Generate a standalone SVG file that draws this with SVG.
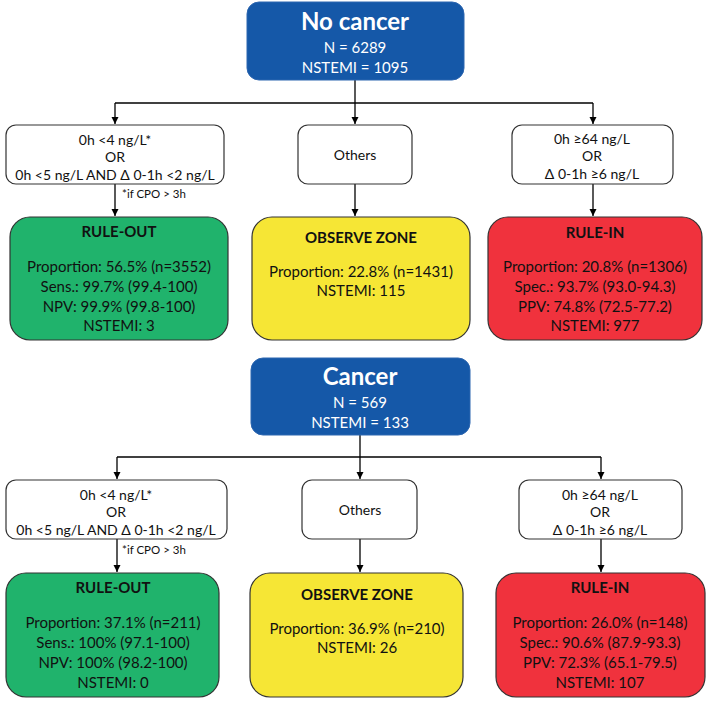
<svg xmlns="http://www.w3.org/2000/svg" width="711" height="702" viewBox="0 0 711 702">
<defs>
<marker id="ar" markerUnits="userSpaceOnUse" markerWidth="8" markerHeight="8" refX="7" refY="3.5" orient="auto">
<path d="M0,0 L7,3.5 L0,7 z" fill="#000"/>
</marker>
</defs>
<style>
text{font-family:Lato,"Liberation Sans",sans-serif;text-anchor:middle;fill:#111}
.hdr rect{fill:#1558a8;stroke:#2d66b0;stroke-width:1}
.hdr text{fill:#fff}
.big{font-size:24px;font-weight:bold}
.sub{font-size:15px}
.crit rect{fill:#fff;stroke:#333;stroke-width:1.2}
.crit text{font-size:14px}
.res rect{stroke:#333;stroke-width:1.2}
.res text{font-size:15px}
.res .ttl{font-weight:bold;font-size:15px}
.g rect{fill:#20b36c}
.y rect{fill:#f6e635}
.r rect{fill:#f0323d}
.note{font-size:11.5px;text-anchor:start}
.conn path{fill:none;stroke:#000;stroke-width:1.3}
</style>
<rect width="711" height="702" fill="#fff"/>

<g id="connectors" class="conn">
<path d="M355,80 V103"/>
<path d="M115,103 H593"/>
<path d="M115,103 V124" marker-end="url(#ar)"/>
<path d="M355,103 V124" marker-end="url(#ar)"/>
<path d="M593,103 V124" marker-end="url(#ar)"/>
<path d="M115,184 V216" marker-end="url(#ar)"/>
<path d="M355,184 V216" marker-end="url(#ar)"/>
<path d="M593,184 V216" marker-end="url(#ar)"/>
<path d="M360,435 V457"/>
<path d="M117,457 H601"/>
<path d="M117,457 V479" marker-end="url(#ar)"/>
<path d="M360,457 V479" marker-end="url(#ar)"/>
<path d="M601,457 V479" marker-end="url(#ar)"/>
<path d="M117,539 V572" marker-end="url(#ar)"/>
<path d="M360,539 V572" marker-end="url(#ar)"/>
<path d="M601,539 V572" marker-end="url(#ar)"/>
<text class="note" x="122" y="198">*if CPO &gt; 3h</text>
<text class="note" x="122" y="554">*if CPO &gt; 3h</text>
</g>

<g id="no-cancer" class="hdr">
<rect x="247" y="2" width="217" height="78" rx="12"/>
<text class="big" x="355" y="30">No cancer</text>
<text class="sub" x="355" y="53">N = 6289</text>
<text class="sub" x="355" y="73">NSTEMI = 1095</text>
</g>

<g id="crit-out-1" class="crit">
<rect x="6" y="125" width="218" height="59" rx="10"/>
<text x="115" y="145">0h &lt;4 ng/L*</text>
<text x="115" y="162">OR</text>
<text x="115" y="180">0h &lt;5 ng/L AND Δ 0-1h &lt;2 ng/L</text>
</g>
<g id="crit-others-1" class="crit">
<rect x="298" y="125" width="114" height="59" rx="10"/>
<text x="355" y="160">Others</text>
</g>
<g id="crit-in-1" class="crit">
<rect x="512" y="125" width="161" height="59" rx="10"/>
<text x="592" y="144">0h ≥64 ng/L</text>
<text x="592" y="161">OR</text>
<text x="592" y="179">Δ 0-1h ≥6 ng/L</text>
</g>

<g id="rule-out-1" class="res g">
<rect x="10" y="217" width="218" height="123" rx="20"/>
<text class="ttl" x="119" y="237">RULE-OUT</text>
<text x="119" y="272">Proportion: 56.5% (n=3552)</text>
<text x="119" y="292">Sens.: 99.7% (99.4-100)</text>
<text x="119" y="312">NPV: 99.9% (99.8-100)</text>
<text x="119" y="331">NSTEMI: 3</text>
</g>
<g id="observe-1" class="res y">
<rect x="252" y="217" width="218" height="123" rx="20"/>
<text class="ttl" x="361" y="243">OBSERVE ZONE</text>
<text x="361" y="277">Proportion: 22.8% (n=1431)</text>
<text x="361" y="296">NSTEMI: 115</text>
</g>
<g id="rule-in-1" class="res r">
<rect x="488" y="217" width="214" height="123" rx="20"/>
<text class="ttl" x="595" y="238">RULE-IN</text>
<text x="595" y="272">Proportion: 20.8% (n=1306)</text>
<text x="595" y="292">Spec.: 93.7% (93.0-94.3)</text>
<text x="595" y="312">PPV: 74.8% (72.5-77.2)</text>
<text x="595" y="331">NSTEMI: 977</text>
</g>

<g id="cancer" class="hdr">
<rect x="251" y="358" width="219" height="77" rx="12"/>
<text class="big" x="360" y="385">Cancer</text>
<text class="sub" x="360" y="408">N = 569</text>
<text class="sub" x="360" y="428">NSTEMI = 133</text>
</g>

<g id="crit-out-2" class="crit">
<rect x="6" y="480" width="221" height="59" rx="10"/>
<text x="116" y="500">0h &lt;4 ng/L*</text>
<text x="116" y="517">OR</text>
<text x="116" y="535">0h &lt;5 ng/L AND Δ 0-1h &lt;2 ng/L</text>
</g>
<g id="crit-others-2" class="crit">
<rect x="302" y="480" width="115" height="59" rx="10"/>
<text x="360" y="515">Others</text>
</g>
<g id="crit-in-2" class="crit">
<rect x="519" y="480" width="163" height="59" rx="10"/>
<text x="600" y="500">0h ≥64 ng/L</text>
<text x="600" y="517">OR</text>
<text x="600" y="535">Δ 0-1h ≥6 ng/L</text>
</g>

<g id="rule-out-2" class="res g">
<rect x="6" y="573" width="213" height="124" rx="20"/>
<text class="ttl" x="113" y="593">RULE-OUT</text>
<text x="113" y="628">Proportion: 37.1% (n=211)</text>
<text x="113" y="648">Sens.: 100% (97.1-100)</text>
<text x="113" y="668">NPV: 100% (98.2-100)</text>
<text x="113" y="688">NSTEMI: 0</text>
</g>
<g id="observe-2" class="res y">
<rect x="250" y="573" width="213" height="124" rx="20"/>
<text class="ttl" x="357" y="600">OBSERVE ZONE</text>
<text x="357" y="634">Proportion: 36.9% (n=210)</text>
<text x="357" y="653">NSTEMI: 26</text>
</g>
<g id="rule-in-2" class="res r">
<rect x="496" y="573" width="209" height="124" rx="20"/>
<text class="ttl" x="600" y="593">RULE-IN</text>
<text x="600" y="628">Proportion: 26.0% (n=148)</text>
<text x="600" y="648">Spec.: 90.6% (87.9-93.3)</text>
<text x="600" y="668">PPV: 72.3% (65.1-79.5)</text>
<text x="600" y="688">NSTEMI: 107</text>
</g>
</svg>
